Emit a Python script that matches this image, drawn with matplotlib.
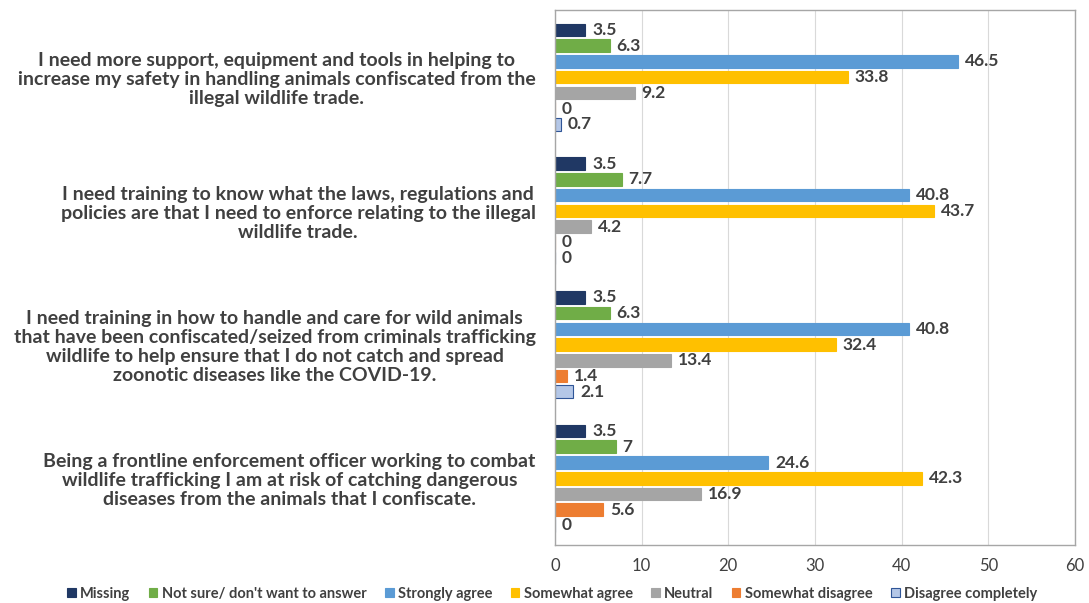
import matplotlib
matplotlib.use("Agg")
import matplotlib.pyplot as plt
import numpy as np

questions = [
    "I need more support, equipment and tools in helping to\nincrease my safety in handling animals confiscated from the\nillegal wildlife trade.",
    "I need training to know what the laws, regulations and\npolicies are that I need to enforce relating to the illegal\nwildlife trade.",
    "I need training in how to handle and care for wild animals\nthat have been confiscated/seized from criminals trafficking\nwildlife to help ensure that I do not catch and spread\nzoonotic diseases like the COVID-19.",
    "Being a frontline enforcement officer working to combat\nwildlife trafficking I am at risk of catching dangerous\ndiseases from the animals that I confiscate.",
]
series = ["Missing", "Not sure/ don't want to answer", "Strongly agree",
          "Somewhat agree", "Neutral", "Somewhat disagree", "Disagree completely"]
missing = [3.5, 3.5, 3.5, 3.5]
not_sure = [6.3, 7.7, 6.3, 7]
strongly_agree = [46.5, 40.8, 40.8, 24.6]
somewhat_agree = [33.8, 43.7, 32.4, 42.3]
neutral = [9.2, 4.2, 13.4, 16.9]
somewhat_disagree = [0, 0, 1.4, 5.6]
disagree_completely = [0.7, 0, 2.1, 0]
values = [missing, not_sure, strongly_agree, somewhat_agree,
          neutral, somewhat_disagree, disagree_completely]
x_ticks = [0, 10, 20, 30, 40, 50, 60]

colors = ["#203864", "#70AD47", "#5B9BD5", "#FFC000", "#A5A5A5", "#ED7D31", "#B4C7E7"]
edges = ["#203864", "#70AD47", "#5B9BD5", "#FFC000", "#A5A5A5", "#ED7D31", "#2F5597"]

plt.rcParams['font.family'] = ['Lato', 'DejaVu Sans']
txt = "#404040"

fig = plt.figure(figsize=(10.89, 6.03), dpi=100)
ax = fig.add_axes([0.5096, 0.096, 0.4775, 0.887])

pitch = 8.5
centers = np.arange(len(questions)) * pitch
for i, (name, vals) in enumerate(zip(series, values)):
    y = centers + (i - 3)
    bars = ax.barh(y, vals, height=0.8, color=colors[i], edgecolor=edges[i],
                   linewidth=0.8, label=name)
    ax.bar_label(bars, labels=[f"{v:g}" for v in vals], padding=5,
                 fontsize=12.5, fontweight='bold', color=txt)

ax.set_ylim(centers[-1] + 4.25, centers[0] - 4.25)
ax.set_xlim(0, 60)
ax.set_xticks(x_ticks)
ax.tick_params(axis='x', length=0, labelsize=12, labelcolor=txt, pad=9)
ax.set_yticks(centers)
ax.set_yticklabels(questions, fontsize=14, fontweight='bold', color=txt,
                   multialignment='center', linespacing=1.15)
ax.tick_params(axis='y', length=0, pad=14)
ax.grid(axis='x', color="#D9D9D9", linewidth=0.8)
ax.set_axisbelow(True)
for s in ax.spines.values():
    s.set_color("#A6A6A6")
    s.set_linewidth(1.0)

fig.legend(loc='lower center', bbox_to_anchor=(0.507, -0.018), ncol=7, frameon=False,
           handlelength=0.6, handleheight=0.6, handletextpad=0.3,
           columnspacing=1.25, labelcolor=txt, prop={'weight': 'bold', 'size': 10.5})

fig.savefig("out.png", dpi=100)
